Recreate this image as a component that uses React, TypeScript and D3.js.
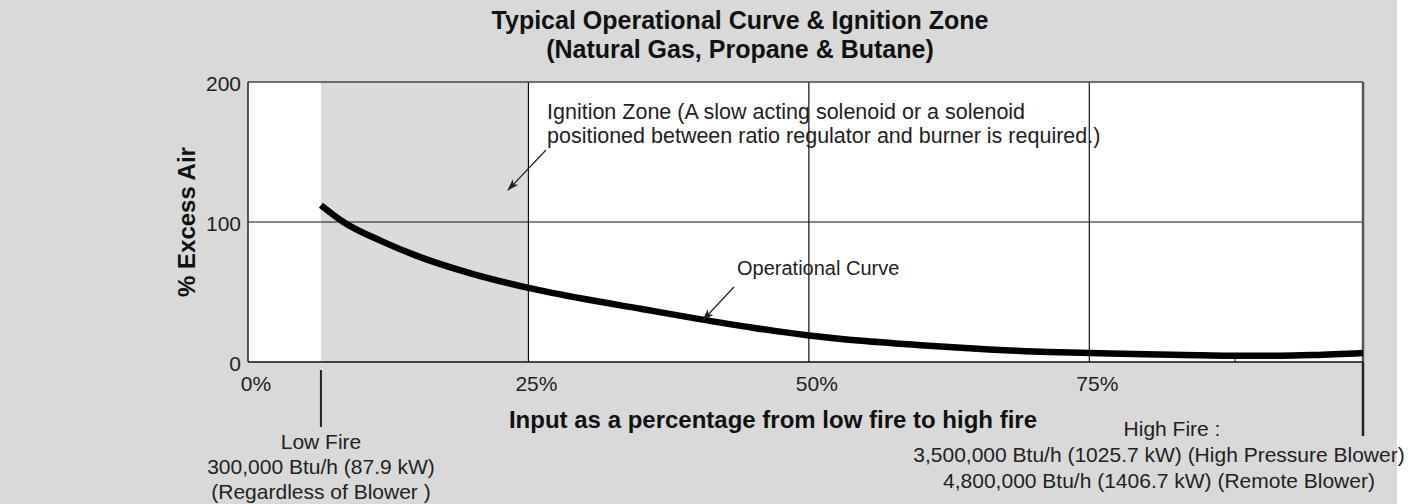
import * as d3 from 'd3';

// Operational curve (% of range vs % excess air)
const curvePct = [6.5, 8.5, 12, 15, 20, 25, 30, 35, 40, 45, 50, 55, 60, 65, 70, 75, 80, 85, 88, 92, 95, 99.4];
const curveAir = [112, 100, 86, 76, 63, 53, 45, 38, 31, 24.5, 19, 15, 12, 9.5, 7.5, 6.5, 5.5, 4.8, 4.5, 4.5, 5, 6.5];

const xTicks = [0, 25, 50, 75];
const xTickLabels = ['0%', '25%', '50%', '75%'];
const yTicks = [0, 100, 200];
const minorXTicks = [88];

const lowFirePct = 6.5;
const ignitionEndPct = 25;
const highFirePct = 99.4;

const titleLines = ['Typical Operational Curve & Ignition Zone', '(Natural Gas, Propane & Butane)'];
const ignitionLines = [
  'Ignition Zone (A slow acting solenoid or a solenoid',
  'positioned between ratio regulator and burner is required.)',
];
const lowFireLines = ['Low Fire', '300,000 Btu/h (87.9 kW)', '(Regardless of Blower )'];
const highFireLines = [
  'High Fire :',
  '3,500,000 Btu/h (1025.7 kW) (High Pressure Blower)',
  '4,800,000 Btu/h (1406.7 kW) (Remote Blower)',
];

const W = 1411;
const H = 504;
const FONT = "'Liberation Sans', Arial, Helvetica, sans-serif";

export default function App() {
  const x = d3.scaleLinear().domain([0, highFirePct]).range([248, 1363]);
  const y = d3.scaleLinear().domain([0, 200]).range([362, 82]);

  const line = d3
    .line<number>()
    .x((_, i) => x(curvePct[i]))
    .y((d) => y(d))
    .curve(d3.curveMonotoneX);

  const textColor = '#222';

  return (
    <div style={{ position: 'fixed', left: 0, top: 0 }}>
      <svg width={W} height={H} style={{ display: 'block' }} fontFamily={FONT}>
        <defs>
          <marker id="arrow" viewBox="0 0 12 8" refX="11" refY="4" markerWidth="12" markerHeight="8"
            markerUnits="userSpaceOnUse" orient="auto">
            <path d="M0,0 L12,4 L0,8 L3,4 Z" fill="#222" />
          </marker>
        </defs>
        <rect x={0} y={0} width={W} height={H} fill="#fff" />
        <rect x={0} y={0} width={1397} height={H} fill="#d9d9d9" />

        {/* plot area */}
        <rect x={x(0)} y={y(200)} width={x(highFirePct) - x(0)} height={y(0) - y(200)} fill="#fff" />
        <rect x={x(lowFirePct)} y={y(200)} width={x(ignitionEndPct) - x(lowFirePct)} height={y(0) - y(200)}
          fill="#dbdbdc" />

        {/* grid */}
        {xTicks.slice(1).map((t) => (
          <line key={t} x1={x(t)} x2={x(t)} y1={y(200)} y2={y(0)} stroke="#111" strokeWidth={1.2} />
        ))}
        <line x1={x(0)} x2={x(highFirePct)} y1={y(100)} y2={y(100)} stroke="#111" strokeWidth={1.2} />
        {minorXTicks.map((t) => (
          <line key={t} x1={x(t)} x2={x(t)} y1={y(0)} y2={y(0) - 3} stroke="#111" strokeWidth={1} />
        ))}

        {/* borders */}
        <line x1={x(0)} x2={x(highFirePct)} y1={y(200)} y2={y(200)} stroke="#444" strokeWidth={1.5} />
        <line x1={x(highFirePct)} x2={x(highFirePct)} y1={y(200)} y2={y(0)} stroke="#555" strokeWidth={2.5} />
        <line x1={x(0)} x2={x(0)} y1={y(200)} y2={y(0)} stroke="#222" strokeWidth={1.5} />
        <line x1={x(0)} x2={x(highFirePct)} y1={y(0)} y2={y(0)} stroke="#111" strokeWidth={1.5} />

        {/* curve */}
        <path d={line(curveAir) ?? ''} fill="none" stroke="#000" strokeWidth={6.5} strokeLinecap="butt" />

        {/* low / high fire markers */}
        <line x1={x(lowFirePct)} x2={x(lowFirePct)} y1={370} y2={427} stroke="#222" strokeWidth={2} />
        <line x1={x(highFirePct)} x2={x(highFirePct)} y1={y(0)} y2={436} stroke="#222" strokeWidth={2.5} />

        {/* tick labels */}
        {xTicks.map((t, i) => (
          <text key={t} x={x(t) + 8} y={391} textAnchor="middle" fontSize={21} fill={textColor}>
            {xTickLabels[i]}
          </text>
        ))}
        {yTicks.map((t) => (
          <text key={t} x={241} y={y(t) + 9} textAnchor="end" fontSize={21} fill={textColor}>
            {t}
          </text>
        ))}

        {/* titles */}
        {titleLines.map((s, i) => (
          <text key={s} x={740} y={29 + i * 29} textAnchor="middle" fontSize={25} fontWeight="bold" fill="#111">
            {s}
          </text>
        ))}
        <text x={773} y={428} textAnchor="middle" fontSize={24} fontWeight="bold" fill="#111">
          Input as a percentage from low fire to high fire
        </text>
        <text transform={`translate(195, ${y(100)}) rotate(-90)`} textAnchor="middle" fontSize={24}
          fontWeight="bold" fill="#111">
          % Excess Air
        </text>

        {/* annotations */}
        {ignitionLines.map((s, i) => (
          <text key={s} x={547} y={119 + i * 24} fontSize={21.5} fill={textColor}>
            {s}
          </text>
        ))}
        <line x1={546} y1={150} x2={508} y2={190} stroke="#222" strokeWidth={1.2} markerEnd="url(#arrow)" />

        <text x={737} y={275} fontSize={20} fill={textColor}>
          Operational Curve
        </text>
        <line x1={734} y1={287} x2={703} y2={320} stroke="#222" strokeWidth={1.2} markerEnd="url(#arrow)" />

        {lowFireLines.map((s, i) => (
          <text key={s} x={321} y={449 + i * 25} textAnchor="middle" fontSize={21} fill={textColor}>
            {s}
          </text>
        ))}
        {highFireLines.map((s, i) => (
          <text key={s} x={i === 0 ? 1172 : 1159} y={436 + i * 26} textAnchor="middle" fontSize={21}
            fill={textColor}>
            {s}
          </text>
        ))}
      </svg>
    </div>
  );
}
